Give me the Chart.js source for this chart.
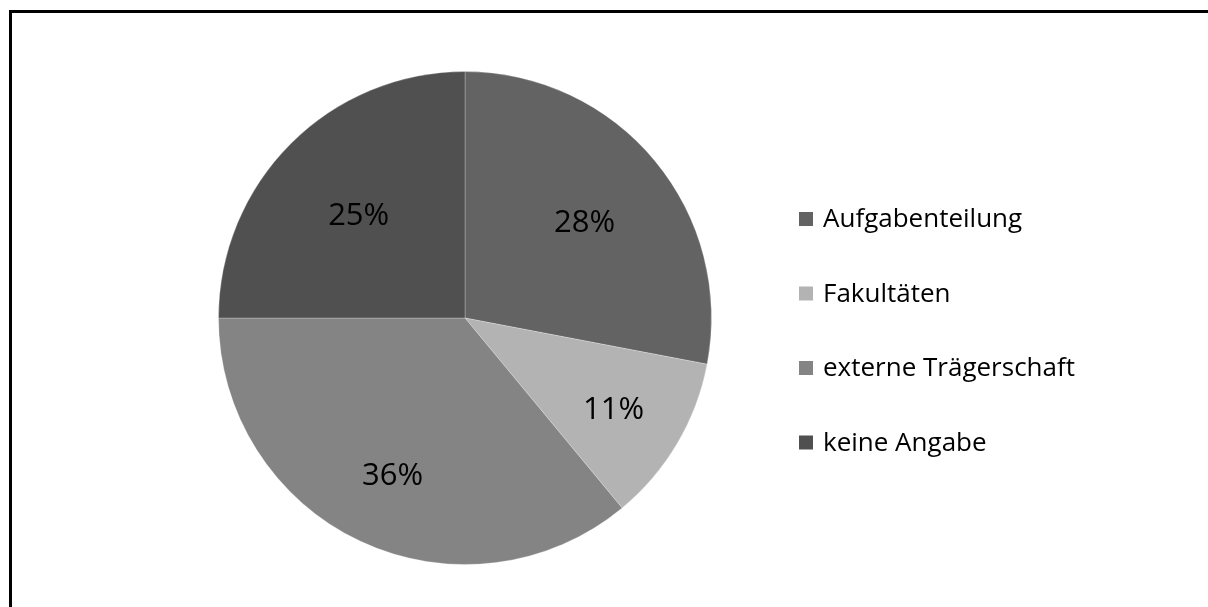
<!DOCTYPE html>
<html><head><meta charset="utf-8">
<script src="https://cdn.jsdelivr.net/npm/chart.js@4"></script>
<style>
html,body{margin:0;padding:0;background:#fff;overflow:hidden;}
canvas{display:block;}
</style></head><body>
<canvas id="c" width="1208" height="607"></canvas>
<script>
const categories = ["Aufgabenteilung", "Fakultäten", "externe Trägerschaft", "keine Angabe"];
const values = [28, 11, 36, 25];
const colors = ["#636363", "#b3b3b3", "#848484", "#505050"];
const labelRadiusFrac = [0.63, 0.70, 0.69, 0.61];

const frame = {
  id: 'frame',
  beforeDraw(chart) {
    const ctx = chart.ctx;
    ctx.save();
    ctx.fillStyle = '#fff';
    ctx.fillRect(0, 0, chart.width, chart.height);
    ctx.fillStyle = '#000';
    ctx.fillRect(9, 10, chart.width - 9, 3);
    ctx.fillRect(9, 10, 3, chart.height - 10);
    ctx.restore();
  }
};

const pctLabels = {
  id: 'pctLabels',
  afterDatasetsDraw(chart) {
    const ctx = chart.ctx;
    const meta = chart.getDatasetMeta(0);
    const total = values.reduce((a, b) => a + b, 0);
    ctx.save();
    ctx.font = '31px "Open Sans", sans-serif';
    ctx.fillStyle = '#000';
    ctx.textAlign = 'center';
    ctx.textBaseline = 'middle';
    meta.data.forEach((arc, i) => {
      const mid = (arc.startAngle + arc.endAngle) / 2;
      const r = arc.outerRadius * labelRadiusFrac[i];
      const x = arc.x + Math.cos(mid) * r;
      const y = arc.y + Math.sin(mid) * r + 4;
      ctx.fillText(Math.round(values[i] / total * 100) + '%', x, y);
    });
    ctx.restore();
  }
};

const customLegend = {
  id: 'customLegend',
  afterDraw(chart) {
    const ctx = chart.ctx;
    const labels = chart.data.labels;
    const bg = chart.data.datasets[0].backgroundColor;
    const x0 = 799, y0 = 219, step = 74.5, sq = 14;
    ctx.save();
    ctx.font = '26px "Open Sans", sans-serif';
    ctx.textBaseline = 'middle';
    ctx.textAlign = 'left';
    labels.forEach((l, i) => {
      const y = y0 + i * step;
      ctx.fillStyle = bg[i];
      ctx.fillRect(x0, y - sq / 2, sq, sq);
      ctx.fillStyle = '#000';
      ctx.fillText(l, x0 + 24, y + 1);
    });
    ctx.restore();
  }
};

new Chart(document.getElementById('c'), {
  type: 'pie',
  data: {
    labels: categories,
    datasets: [{
      data: values,
      backgroundColor: colors,
      borderColor: 'rgba(255,255,255,0.25)',
      borderWidth: 1
    }]
  },
  options: {
    responsive: false,
    animation: false,
    layout: { padding: { left: 218, right: 496, top: 71, bottom: 42 } },
    plugins: { legend: { display: false }, tooltip: { enabled: false } }
  },
  plugins: [frame, pctLabels, customLegend]
});
</script>
</body></html>
